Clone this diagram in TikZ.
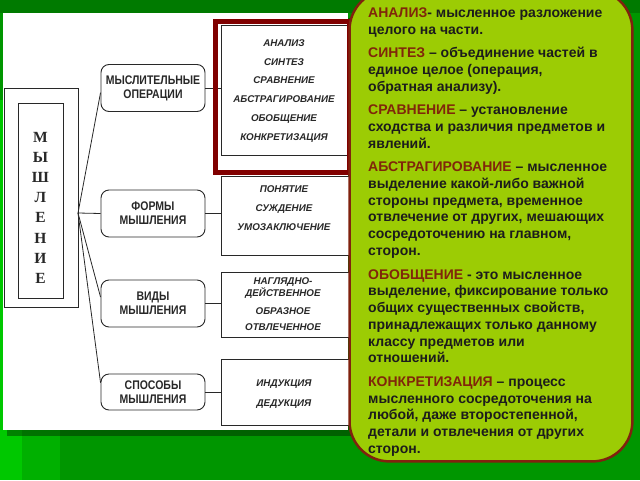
\documentclass[tikz,border=0pt]{standalone}
\usepackage{fontspec}
\setmainfont{Liberation Sans}
\newfontfamily\boxfont[FakeStretch=0.84]{Liberation Sans}
\newfontfamily\serifcol{Liberation Serif}
\definecolor{bgdark}{RGB}{0,122,0}
\definecolor{bgmid}{RGB}{0,150,0}
\definecolor{barA}{RGB}{0,200,0}
\definecolor{barB}{RGB}{0,176,0}
\definecolor{notefill}{RGB}{156,204,4}
\definecolor{noteedge}{RGB}{128,34,14}
\definecolor{framered}{RGB}{128,0,0}
\definecolor{kwc}{RGB}{128,38,10}
\definecolor{ink}{RGB}{28,28,28}
\definecolor{diag}{RGB}{40,40,40}
\newcommand\kw[1]{{\textcolor{kwc}{#1}}}
\begin{document}
\begin{tikzpicture}[x=1pt,y=-1pt,
  mbox/.style={draw=diag, line width=0.9pt, rounded corners=8pt, fill=white,
    minimum width=104pt, minimum height=47pt, align=center, inner sep=0pt, text=diag,
    font=\boxfont\bfseries\fontsize{12.5}{14}\selectfont},
  rbox/.style={draw=diag, line width=0.9pt, fill=white, inner sep=0pt, anchor=north west},
  rtxt/.style={font=\bfseries\itshape\fontsize{9.8}{11}\selectfont, anchor=base, inner sep=0pt, text=diag},
  letter/.style={font=\serifcol\bfseries\fontsize{15.5}{16}\selectfont, anchor=base, inner sep=0pt, text=diag},
  cl/.style={font=\bfseries\fontsize{14}{16}\selectfont, text=ink, anchor=base west, inner sep=0pt},
  link/.style={draw=diag, line width=0.8pt},
  note/.style={fill=notefill, rounded corners=40pt, anchor=north west, inner sep=0pt,
    minimum width=282.5pt, minimum height=471pt},
  noteborder/.style={draw=noteedge, line width=2.5pt, rounded corners=40pt},
  redframe/.style={draw=framered, line width=5pt}]
\useasboundingbox (0,0) rectangle (640,480);
% background
\fill[bgmid] (0,0) rectangle (640,480);
\fill[bgdark] (0,0) rectangle (640,13);
\fill[barA] (0,100) rectangle (22,480);
\fill[barB] (22,100) rectangle (60,480);
% white picture with shadow
\fill[black, opacity=0.35] (7,18) rectangle (352,436);
\fill[white] (3,13) rectangle (348,430);
% left block
\node[rbox, minimum width=74pt, minimum height=219pt] (outer) at (4,88) {};
\node[rbox, minimum width=45pt, minimum height=195pt] (inner) at (18,103) {};
\foreach \l [count=\k from 0] in {М,Ы,Ш,Л,Е,Н,И,Е}
  \node[letter] (L\k) at (40.5,{142.5+20.1*\k}) {\l};
\coordinate (fan) at (78,213);
% middle boxes
\node[mbox] (m1) at (153,88) {МЫСЛИТЕЛЬНЫЕ\\ОПЕРАЦИИ};
\node[mbox] (m2) at (153,213.5) {ФОРМЫ\\МЫШЛЕНИЯ};
\node[mbox] (m3) at (153,303.5) {ВИДЫ\\МЫШЛЕНИЯ};
\node[mbox, minimum height=36pt] (m4) at (153,392) {СПОСОБЫ\\МЫШЛЕНИЯ};
% right boxes
\node[rbox, minimum width=131pt, minimum height=130pt] (r1) at (221,25) {};
\node[rbox, minimum width=131pt, minimum height=79pt] (r2) at (221,176) {};
\node[rbox, minimum width=131pt, minimum height=65pt] (r3) at (221,272) {};
\node[rbox, minimum width=131pt, minimum height=66pt] (r4) at (221,359) {};
% connectors
\draw[link] (fan) -- (m1.185);
\draw[link] (fan) -- (m2.west);
\draw[link] (fan) -- (m3.173);
\draw[link] (fan) -- (m4.170);
\draw[link] (m1.east) -- (m1.east -| r1.west);
\draw[link] (m2.east) -- (m2.east -| r2.west);
\draw[link] (m3.east) -- (m3.east -| r3.west);
\draw[link] (m4.east) -- (m4.east -| r4.west);
% right box texts
\foreach \y/\t [count=\i] in {46.5/АНАЛИЗ, 65.5/СИНТЕЗ, 83.5/СРАВНЕНИЕ, 102.5/АБСТРАГИРОВАНИЕ,
  121.5/ОБОБЩЕНИЕ, 140.5/КОНКРЕТИЗАЦИЯ}
  \node[rtxt] (a\i) at (284,\y) {\t};
\foreach \y/\t [count=\i] in {192.5/ПОНЯТИЕ, 211.5/СУЖДЕНИЕ, 230.5/УМОЗАКЛЮЧЕНИЕ}
  \node[rtxt] (b\i) at (284,\y) {\t};
\foreach \y/\t [count=\i] in {284.5/НАГЛЯДНО-, 296.5/ДЕЙСТВЕННОЕ, 314.5/ОБРАЗНОЕ, 330.5/ОТВЛЕЧЕННОЕ}
  \node[rtxt] (v\i) at (283,\y) {\t};
\foreach \y/\t [count=\i] in {386.5/ИНДУКЦИЯ, 406.5/ДЕДУКЦИЯ}
  \node[rtxt] (s\i) at (284,\y) {\t};
% red frame
\draw[redframe] (215.5,21.5) rectangle (349,172.5);
% callout
\node[note] (nt) at (349.5,-10) {};
\foreach \y/\t [count=\i] in {
  17.3/{\kw{АНАЛИЗ}- мысленное разложение},
  34.05/{целого на части.},
  57.6/{\kw{СИНТЕЗ} – объединение частей в},
  74.35/{единое целое (операция,},
  91.1/{обратная анализу).},
  114.65/{\kw{СРАВНЕНИЕ} – установление},
  131.4/{сходства и различия предметов и},
  148.15/{явлений.},
  171.7/{\kw{АБСТРАГИРОВАНИЕ} – мысленное},
  188.45/{выделение какой-либо важной},
  205.2/{стороны предмета, временное},
  221.95/{отвлечение от других, мешающих},
  238.7/{сосредоточению на главном,},
  255.45/{сторон.},
  279/{\kw{ОБОБЩЕНИЕ} - это мысленное},
  295.75/{выделение, фиксирование только},
  312.5/{общих существенных свойств,},
  329.25/{принадлежащих только данному},
  346/{классу предметов или},
  362.75/{отношений.},
  386.3/{\kw{КОНКРЕТИЗАЦИЯ} – процесс},
  403.05/{мысленного сосредоточения на},
  419.8/{любой, даже второстепенной,},
  436.55/{детали и отвлечения от других},
  453.3/{сторон.}}
  \node[cl] (c\i) at (368,\y) {\t};
\draw[noteborder] (nt.north west) rectangle (nt.south east);
\end{tikzpicture}
\end{document}
